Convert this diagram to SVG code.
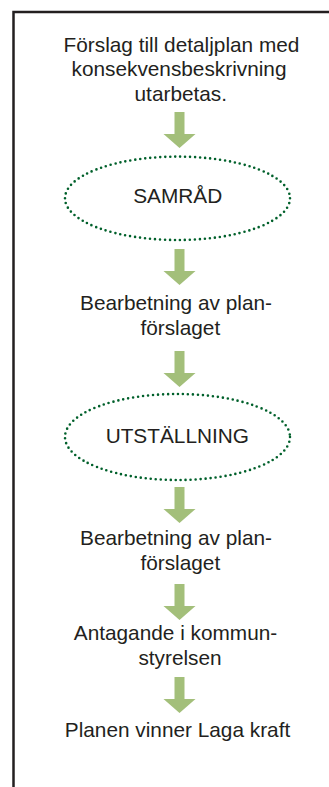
<svg xmlns="http://www.w3.org/2000/svg" xmlns:xlink="http://www.w3.org/1999/xlink" width="329" height="787" viewBox="0 0 329 787">
<style>
.t{font-family:"Liberation Sans",Arial,sans-serif;font-size:20.8px;fill:#231f20;text-anchor:middle}
.e{fill:none;stroke:#00602b;stroke-width:2.6;stroke-dasharray:0 5;stroke-linecap:round}
.a{fill:#a3bf7a}
</style>
<defs>
<path id="arr" d="M-5,0 H5 V22 H16 L0,36 L-16,22 H-5 Z"/>
</defs>
<rect x="0" y="0" width="329" height="787" fill="#fff"/>
<rect x="13.5" y="12" width="340" height="800" fill="none" stroke="#231f20" stroke-width="2.5"/>
<g id="connectors" class="a">
<use xlink:href="#arr" transform="translate(179.5,112)"/>
<use xlink:href="#arr" transform="translate(179.5,249)"/>
<use xlink:href="#arr" transform="translate(179.5,351)"/>
<use xlink:href="#arr" transform="translate(179.5,487)"/>
<use xlink:href="#arr" transform="translate(179.5,584)"/>
<use xlink:href="#arr" transform="translate(179.5,677)"/>
</g>
<g id="n1">
<text class="t" x="181.5" y="51.5">Förslag till detaljplan med</text>
<text class="t" x="179" y="76">konsekvensbeskrivning</text>
<text class="t" x="180.8" y="100.5">utarbetas.</text>
</g>
<g id="n2">
<ellipse class="e" cx="177.5" cy="198.3" rx="112.5" ry="41.7"/>
<text class="t" x="177.7" y="203.3">SAMRÅD</text>
</g>
<g id="n3">
<text class="t" x="176" y="310">Bearbetning av plan-</text>
<text class="t" x="180.3" y="334.5">förslaget</text>
</g>
<g id="n4">
<ellipse class="e" cx="177.5" cy="437" rx="112.5" ry="43"/>
<text class="t" x="177.3" y="443.3">UTSTÄLLNING</text>
</g>
<g id="n5">
<text class="t" x="176" y="545">Bearbetning av plan-</text>
<text class="t" x="180.3" y="570">förslaget</text>
</g>
<g id="n6">
<text class="t" x="175.5" y="640">Antagande i kommun-</text>
<text class="t" x="180" y="665">styrelsen</text>
</g>
<g id="n7">
<text class="t" x="177.5" y="736.7">Planen vinner Laga kraft</text>
</g>
</svg>
